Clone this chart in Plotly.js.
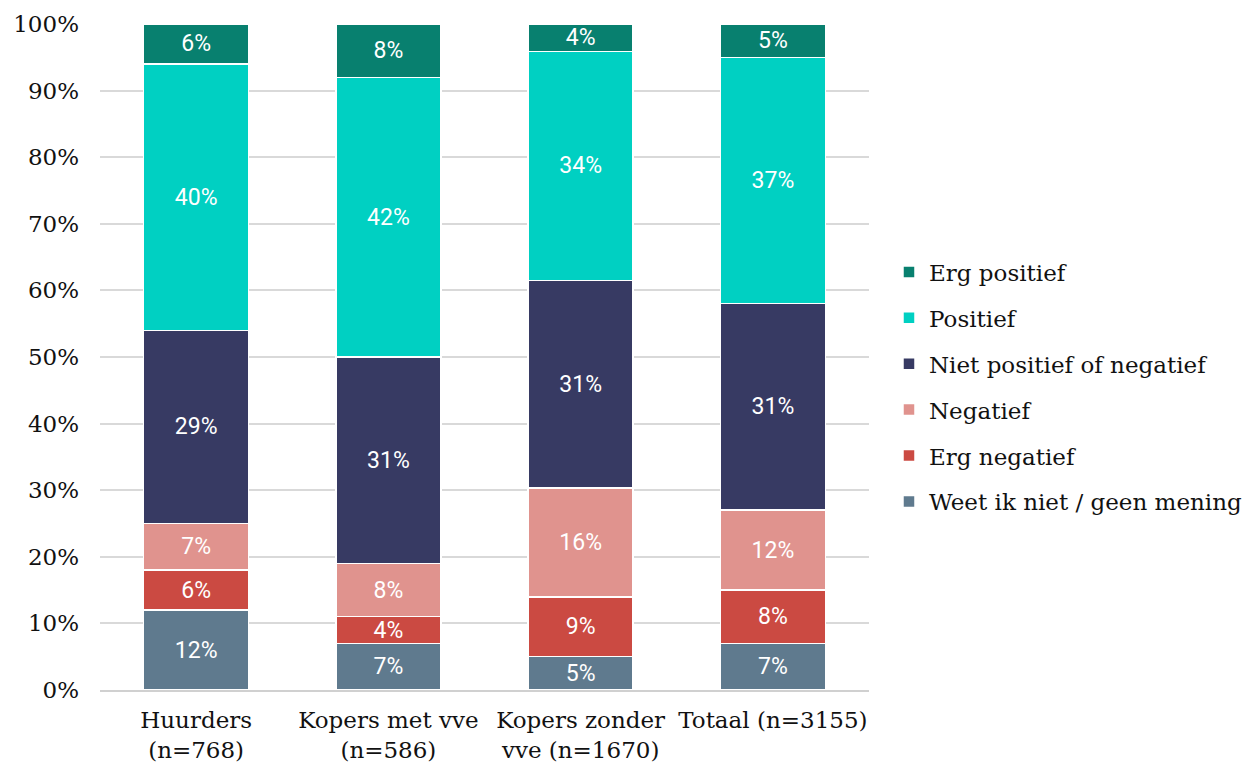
<!DOCTYPE html>
<html>
<head>
<meta charset="utf-8">
<script src="https://cdn.plot.ly/plotly-3.0.1.min.js"></script>
<style>html,body{margin:0;padding:0;background:#fff;}#chart{width:1260px;height:766px;}</style>
</head>
<body>
<div id="chart"></div>
<script>
const categories = ["Huurders<br>(n=768)", "Kopers met vve<br>(n=586)", "Kopers zonder<br>vve (n=1670)", "Totaal (n=3155)"];
const seriesNames = ["Weet ik niet / geen mening", "Erg negatief", "Negatief", "Niet positief of negatief", "Positief", "Erg positief"];
const weetNiet = [12, 7, 5, 7];
const ergNegatief = [6, 4, 9, 8];
const negatief = [7, 8, 16.3, 12];
const neutraal = [29, 31, 31.2, 31];
const positief = [40, 42, 34.4, 37];
const ergPositief = [6, 8, 4.1, 5];
const seriesValues = [weetNiet, ergNegatief, negatief, neutraal, positief, ergPositief];
const colors = ["#5f7a8e", "#cb4a42", "#e0938e", "#373a63", "#00d0c2", "#08806f"];

const traces = seriesNames.map((name, i) => ({
  type: "bar",
  name: name,
  x: categories,
  y: seriesValues[i],
  legendgroup: "g" + i,
  legendrank: 100 - i,
  marker: {color: colors[i], line: {color: "#ffffff", width: 1.5}},
  texttemplate: "%{y:.0f}%",
  textposition: "inside",
  insidetextanchor: "middle",
  constraintext: "none",
  textfont: {family: "Roboto, sans-serif", size: 23, color: "#ffffff"},
  hoverinfo: "skip"
}));

const layout = {
  width: 1260,
  height: 766,
  barmode: "stack",
  bargap: 0.453,
  margin: {l: 100, r: 391, t: 24, b: 76, autoexpand: false},
  paper_bgcolor: "#ffffff",
  plot_bgcolor: "#ffffff",
  font: {family: "DejaVu Serif, serif", color: "#111111", size: 20},
  xaxis: {
    type: "category",
    tickfont: {family: "DejaVu Serif, serif", size: 23, color: "#111111"},
    showline: true,
    linecolor: "#d0d0d0",
    linewidth: 2,
    ticks: "",
    showgrid: false,
    ticklabelstandoff: 8
  },
  yaxis: {
    range: [0, 100],
    dtick: 10,
    ticksuffix: "%",
    tickfont: {family: "DejaVu Serif, serif", size: 23, color: "#111111"},
    gridcolor: "#d9d9d9",
    gridwidth: 2,
    zeroline: false,
    showline: false,
    ticks: "",
    ticklabelstandoff: 20
  },
  legend: {
    x: 1.026,
    xanchor: "left",
    y: 0.455,
    yanchor: "middle",
    traceorder: "grouped",
    tracegroupgap: 13,
    font: {family: "DejaVu Serif, serif", size: 23, color: "#111111"},
    itemwidth: 30
  },
  showlegend: true
};

Plotly.newPlot("chart", traces, layout, {displayModeBar: false, staticPlot: true});
</script>
</body>
</html>
